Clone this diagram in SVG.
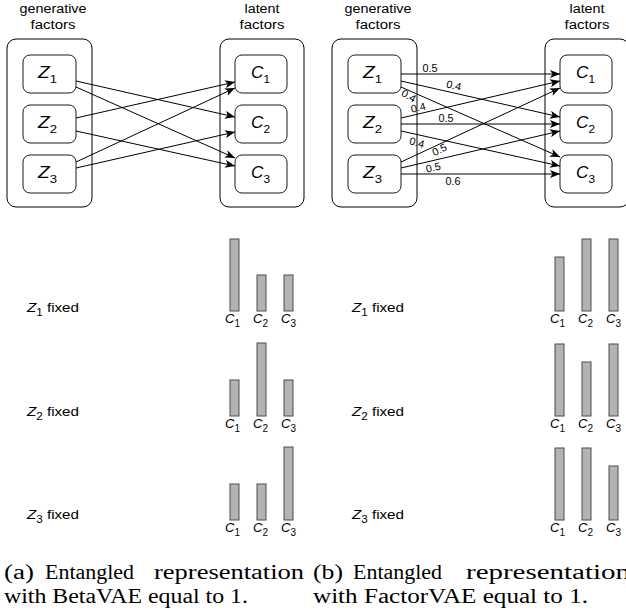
<svg xmlns="http://www.w3.org/2000/svg" width="626" height="615" viewBox="0 0 626 615">
<defs>
<style>
.hdr{font-family:"Liberation Sans",Arial,sans-serif;font-size:12.5px;fill:#000;text-anchor:middle}
.outer{fill:#fff;stroke:#000;stroke-width:1}
.node{fill:#fff;stroke:#1a1a1a;stroke-width:1}
.nl{font-family:"Liberation Sans",Arial,sans-serif;font-size:16px;font-style:italic;fill:#000}
.sub{font-size:11px;font-style:normal}
.edge{fill:none;stroke:#000;stroke-width:1;marker-end:url(#arr)}
.el{font-family:"Liberation Sans",Arial,sans-serif;font-size:10.5px;fill:#000;text-anchor:middle}
.bar{fill:#b3b3b3;stroke:#4d4d4d;stroke-width:1}
.bl{font-family:"Liberation Sans",Arial,sans-serif;font-size:13px;font-style:italic;fill:#000}
.bsub{font-size:10px;font-style:normal}
.fx{font-family:"Liberation Sans",Arial,sans-serif;font-size:13px;fill:#000}
.cap{font-family:"Liberation Serif","Times New Roman",serif;font-size:20px;fill:#000}
</style>
<marker id="arr" viewBox="0 0 10 8" refX="10" refY="4" markerWidth="10" markerHeight="8" markerUnits="userSpaceOnUse" orient="auto">
<path d="M0,0 L10,4 L0,8 L2.5,4 z" fill="#000"/>
</marker>
</defs>

<!-- Panel (a) -->
<g id="a-headers">
<text class="hdr" x="53" y="13" textLength="67" lengthAdjust="spacingAndGlyphs">generative</text>
<text class="hdr" x="53" y="29" textLength="45" lengthAdjust="spacingAndGlyphs">factors</text>
<text class="hdr" x="262" y="13" textLength="35" lengthAdjust="spacingAndGlyphs">latent</text>
<text class="hdr" x="262" y="29" textLength="45" lengthAdjust="spacingAndGlyphs">factors</text>
</g>
<g id="a-gen"><rect class="outer" x="7" y="39" width="85" height="168" rx="9"/></g>
<g id="a-lat"><rect class="outer" x="220" y="39" width="84" height="168" rx="9"/></g>
<g id="a-z1"><rect class="node" x="23" y="55" width="53" height="38" rx="7"/><text class="nl" x="38" y="78" textLength="19" lengthAdjust="spacingAndGlyphs">Z<tspan class="sub" dy="5">1</tspan></text></g>
<g id="a-z2"><rect class="node" x="23" y="105" width="53" height="38" rx="7"/><text class="nl" x="38" y="128" textLength="19" lengthAdjust="spacingAndGlyphs">Z<tspan class="sub" dy="5">2</tspan></text></g>
<g id="a-z3"><rect class="node" x="23" y="155" width="53" height="38" rx="7"/><text class="nl" x="38" y="178" textLength="19" lengthAdjust="spacingAndGlyphs">Z<tspan class="sub" dy="5">3</tspan></text></g>
<g id="a-c1"><rect class="node" x="235" y="55" width="52" height="38" rx="7"/><text class="nl" x="251" y="78" textLength="19" lengthAdjust="spacingAndGlyphs">C<tspan class="sub" dy="5">1</tspan></text></g>
<g id="a-c2"><rect class="node" x="235" y="105" width="52" height="38" rx="7"/><text class="nl" x="251" y="128" textLength="19" lengthAdjust="spacingAndGlyphs">C<tspan class="sub" dy="5">2</tspan></text></g>
<g id="a-c3"><rect class="node" x="235" y="155" width="52" height="38" rx="7"/><text class="nl" x="251" y="178" textLength="19" lengthAdjust="spacingAndGlyphs">C<tspan class="sub" dy="5">3</tspan></text></g>

<g id="a-edges">
<line class="edge" x1="76" y1="81" x2="235" y2="117"/>
<line class="edge" x1="76" y1="87" x2="235" y2="158"/>
<line class="edge" x1="76" y1="118" x2="235" y2="82"/>
<line class="edge" x1="76" y1="131" x2="235" y2="166"/>
<line class="edge" x1="76" y1="162" x2="235" y2="88"/>
<line class="edge" x1="76" y1="168" x2="235" y2="132"/>
</g>

<!-- Panel (b) -->
<g id="b-headers">
<text class="hdr" x="378" y="13" textLength="67" lengthAdjust="spacingAndGlyphs">generative</text>
<text class="hdr" x="378" y="29" textLength="45" lengthAdjust="spacingAndGlyphs">factors</text>
<text class="hdr" x="587" y="13" textLength="35" lengthAdjust="spacingAndGlyphs">latent</text>
<text class="hdr" x="587" y="29" textLength="45" lengthAdjust="spacingAndGlyphs">factors</text>
</g>
<g id="b-gen"><rect class="outer" x="332" y="39" width="85" height="168" rx="9"/></g>
<g id="b-lat"><rect class="outer" x="545" y="39" width="84" height="168" rx="9"/></g>
<g id="b-z1"><rect class="node" x="348" y="55" width="53" height="38" rx="7"/><text class="nl" x="363" y="78" textLength="19" lengthAdjust="spacingAndGlyphs">Z<tspan class="sub" dy="5">1</tspan></text></g>
<g id="b-z2"><rect class="node" x="348" y="105" width="53" height="38" rx="7"/><text class="nl" x="363" y="128" textLength="19" lengthAdjust="spacingAndGlyphs">Z<tspan class="sub" dy="5">2</tspan></text></g>
<g id="b-z3"><rect class="node" x="348" y="155" width="53" height="38" rx="7"/><text class="nl" x="363" y="178" textLength="19" lengthAdjust="spacingAndGlyphs">Z<tspan class="sub" dy="5">3</tspan></text></g>
<g id="b-c1"><rect class="node" x="560" y="55" width="52" height="38" rx="7"/><text class="nl" x="576" y="78" textLength="19" lengthAdjust="spacingAndGlyphs">C<tspan class="sub" dy="5">1</tspan></text></g>
<g id="b-c2"><rect class="node" x="560" y="105" width="52" height="38" rx="7"/><text class="nl" x="576" y="128" textLength="19" lengthAdjust="spacingAndGlyphs">C<tspan class="sub" dy="5">2</tspan></text></g>
<g id="b-c3"><rect class="node" x="560" y="155" width="52" height="38" rx="7"/><text class="nl" x="576" y="178" textLength="19" lengthAdjust="spacingAndGlyphs">C<tspan class="sub" dy="5">3</tspan></text></g>

<g id="b-edges">
<line class="edge" x1="401" y1="74" x2="560" y2="74"/>
<line class="edge" x1="401" y1="81" x2="560" y2="117"/>
<line class="edge" x1="401" y1="87" x2="560" y2="157"/>
<line class="edge" x1="401" y1="118" x2="560" y2="81"/>
<line class="edge" x1="401" y1="124" x2="560" y2="124"/>
<line class="edge" x1="401" y1="131" x2="560" y2="166"/>
<line class="edge" x1="401" y1="162" x2="560" y2="88"/>
<line class="edge" x1="401" y1="168" x2="560" y2="131"/>
<line class="edge" x1="401" y1="174" x2="560" y2="174"/>
<text class="el" x="430" y="72" textLength="15" lengthAdjust="spacingAndGlyphs">0.5</text>
<text class="el" x="453" y="89" textLength="15" lengthAdjust="spacingAndGlyphs" transform="rotate(13 453 89)">0.4</text>
<text class="el" x="407" y="99" textLength="15" lengthAdjust="spacingAndGlyphs" transform="rotate(30 407 99)">0.4</text>
<text class="el" x="419" y="111" textLength="15" lengthAdjust="spacingAndGlyphs" transform="rotate(-13 419 111)">0.4</text>
<text class="el" x="446" y="122" textLength="15" lengthAdjust="spacingAndGlyphs">0.5</text>
<text class="el" x="416" y="146" textLength="15" lengthAdjust="spacingAndGlyphs" transform="rotate(15 416 146)">0.4</text>
<text class="el" x="441" y="153" textLength="15" lengthAdjust="spacingAndGlyphs" transform="rotate(-25 441 153)">0.5</text>
<text class="el" x="434" y="171" textLength="15" lengthAdjust="spacingAndGlyphs" transform="rotate(-13 434 171)">0.5</text>
<text class="el" x="453" y="185" textLength="15" lengthAdjust="spacingAndGlyphs">0.6</text>
</g>

<!-- Bars panel (a) -->
<g id="a-row1">
<text class="fx" x="27" y="312" textLength="52" lengthAdjust="spacingAndGlyphs"><tspan font-style="italic">Z</tspan><tspan class="bsub" dy="4">1</tspan><tspan dy="-4"> fixed</tspan></text>
<rect class="bar" x="230" y="239" width="9" height="72"/>
<rect class="bar" x="257" y="275" width="9" height="36"/>
<rect class="bar" x="284" y="275" width="9" height="36"/>
<text class="bl" x="225" y="323">C<tspan class="bsub" dy="4">1</tspan></text>
<text class="bl" x="253" y="323">C<tspan class="bsub" dy="4">2</tspan></text>
<text class="bl" x="281" y="323">C<tspan class="bsub" dy="4">3</tspan></text>
</g>
<g id="a-row2">
<text class="fx" x="27" y="416" textLength="52" lengthAdjust="spacingAndGlyphs"><tspan font-style="italic">Z</tspan><tspan class="bsub" dy="4">2</tspan><tspan dy="-4"> fixed</tspan></text>
<rect class="bar" x="230" y="380" width="9" height="36"/>
<rect class="bar" x="257" y="343" width="9" height="73"/>
<rect class="bar" x="284" y="380" width="9" height="36"/>
<text class="bl" x="225" y="428">C<tspan class="bsub" dy="4">1</tspan></text>
<text class="bl" x="253" y="428">C<tspan class="bsub" dy="4">2</tspan></text>
<text class="bl" x="281" y="428">C<tspan class="bsub" dy="4">3</tspan></text>
</g>
<g id="a-row3">
<text class="fx" x="27" y="519" textLength="52" lengthAdjust="spacingAndGlyphs"><tspan font-style="italic">Z</tspan><tspan class="bsub" dy="4">3</tspan><tspan dy="-4"> fixed</tspan></text>
<rect class="bar" x="230" y="484" width="9" height="36"/>
<rect class="bar" x="257" y="484" width="9" height="36"/>
<rect class="bar" x="284" y="447" width="9" height="73"/>
<text class="bl" x="225" y="532">C<tspan class="bsub" dy="4">1</tspan></text>
<text class="bl" x="253" y="532">C<tspan class="bsub" dy="4">2</tspan></text>
<text class="bl" x="281" y="532">C<tspan class="bsub" dy="4">3</tspan></text>
</g>

<!-- Bars panel (b) -->
<g id="b-row1">
<text class="fx" x="352" y="312" textLength="52" lengthAdjust="spacingAndGlyphs"><tspan font-style="italic">Z</tspan><tspan class="bsub" dy="4">1</tspan><tspan dy="-4"> fixed</tspan></text>
<rect class="bar" x="555" y="257" width="9" height="54"/>
<rect class="bar" x="582" y="239" width="9" height="72"/>
<rect class="bar" x="609" y="239" width="9" height="72"/>
<text class="bl" x="550" y="323">C<tspan class="bsub" dy="4">1</tspan></text>
<text class="bl" x="578" y="323">C<tspan class="bsub" dy="4">2</tspan></text>
<text class="bl" x="606" y="323">C<tspan class="bsub" dy="4">3</tspan></text>
</g>
<g id="b-row2">
<text class="fx" x="352" y="416" textLength="52" lengthAdjust="spacingAndGlyphs"><tspan font-style="italic">Z</tspan><tspan class="bsub" dy="4">2</tspan><tspan dy="-4"> fixed</tspan></text>
<rect class="bar" x="555" y="344" width="9" height="72"/>
<rect class="bar" x="582" y="362" width="9" height="54"/>
<rect class="bar" x="609" y="344" width="9" height="72"/>
<text class="bl" x="550" y="428">C<tspan class="bsub" dy="4">1</tspan></text>
<text class="bl" x="578" y="428">C<tspan class="bsub" dy="4">2</tspan></text>
<text class="bl" x="606" y="428">C<tspan class="bsub" dy="4">3</tspan></text>
</g>
<g id="b-row3">
<text class="fx" x="352" y="519" textLength="52" lengthAdjust="spacingAndGlyphs"><tspan font-style="italic">Z</tspan><tspan class="bsub" dy="4">3</tspan><tspan dy="-4"> fixed</tspan></text>
<rect class="bar" x="555" y="448" width="9" height="72"/>
<rect class="bar" x="582" y="448" width="9" height="72"/>
<rect class="bar" x="609" y="466" width="9" height="54"/>
<text class="bl" x="550" y="532">C<tspan class="bsub" dy="4">1</tspan></text>
<text class="bl" x="578" y="532">C<tspan class="bsub" dy="4">2</tspan></text>
<text class="bl" x="606" y="532">C<tspan class="bsub" dy="4">3</tspan></text>
</g>

<!-- Captions -->
<g id="captions">
<text class="cap" x="4" y="579" textLength="30" lengthAdjust="spacingAndGlyphs">(a)</text>
<text class="cap" x="45" y="579" textLength="89" lengthAdjust="spacingAndGlyphs">Entangled</text>
<text class="cap" x="154" y="579" textLength="150" lengthAdjust="spacingAndGlyphs">representation</text>
<text class="cap" x="4" y="603" textLength="244" lengthAdjust="spacingAndGlyphs">with BetaVAE equal to 1.</text>
<text class="cap" x="313" y="579" textLength="30" lengthAdjust="spacingAndGlyphs">(b)</text>
<text class="cap" x="353" y="579" textLength="89" lengthAdjust="spacingAndGlyphs">Entangled</text>
<text class="cap" x="466" y="579" textLength="164" lengthAdjust="spacingAndGlyphs">representation</text>
<text class="cap" x="313" y="603" textLength="275" lengthAdjust="spacingAndGlyphs">with FactorVAE equal to 1.</text>
</g>
</svg>
